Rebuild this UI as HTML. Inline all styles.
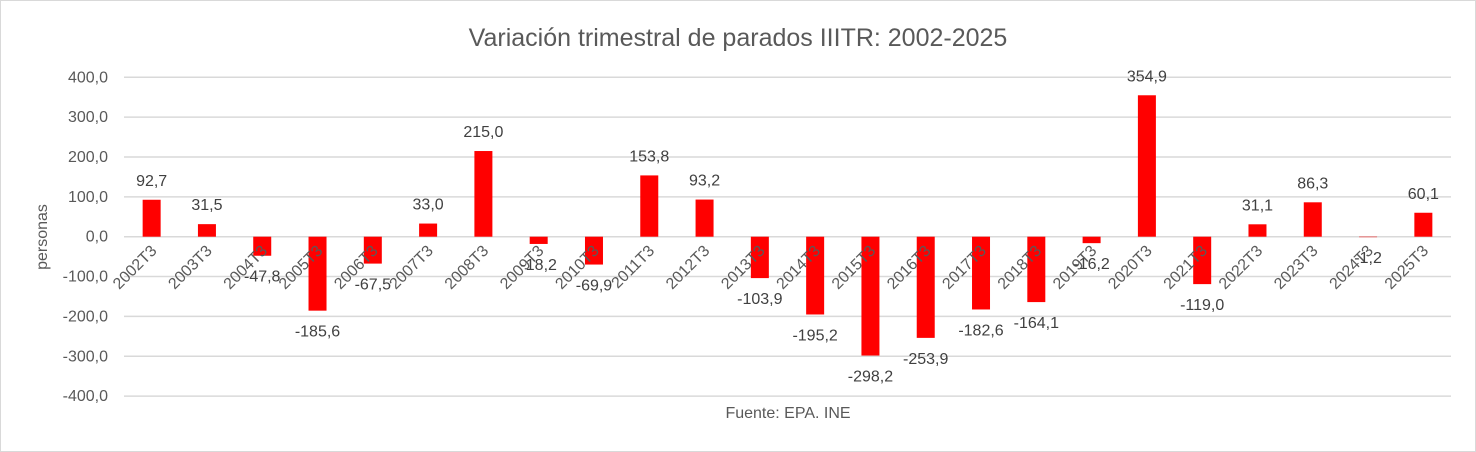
<!DOCTYPE html>
<html><head><meta charset="utf-8"><style>
body{margin:0;background:#fff;}
svg{display:block;font-family:"Liberation Sans",sans-serif;}
</style></head><body>
<svg id="chart" width="1476" height="452">
<rect x="0.5" y="0.5" width="1475" height="451" fill="#fff" stroke="#d9d9d9"/>
<text x="738" y="46" text-anchor="middle" font-size="25" fill="#595959">Variación trimestral de parados IIITR: 2002-2025</text>
<text transform="translate(47,237) rotate(-90)" text-anchor="middle" font-size="16" fill="#595959">personas</text>
<text x="788" y="418" text-anchor="middle" font-size="16" fill="#595959">Fuente: EPA. INE</text>
<g id="grid"></g><g id="bars"></g><g id="labels"></g>
</svg>
<script>
const categories=["2002T3","2003T3","2004T3","2005T3","2006T3","2007T3","2008T3","2009T3","2010T3","2011T3","2012T3","2013T3","2014T3","2015T3","2016T3","2017T3","2018T3","2019T3","2020T3","2021T3","2022T3","2023T3","2024T3","2025T3"];
const values=[92.7,31.5,-47.8,-185.6,-67.5,33.0,215.0,-18.2,-69.9,153.8,93.2,-103.9,-195.2,-298.2,-253.9,-182.6,-164.1,-16.2,354.9,-119.0,31.1,86.3,-1.2,60.1];
const yTicks=[400,300,200,100,0,-100,-200,-300,-400];
const NS="http://www.w3.org/2000/svg";
const left=124,right=1451,y0=236.7,pxPerUnit=0.3985;
const y=v=>y0-v*pxPerUnit;
const step=(right-left)/categories.length;
const x=i=>left+step*(i+0.5);
const fmt=v=>v.toFixed(1).replace('.',',');
const grid=document.getElementById('grid'),bars=document.getElementById('bars'),labels=document.getElementById('labels');
function mk(tag,attrs,parent,text){const e=document.createElementNS(NS,tag);for(const k in attrs)e.setAttribute(k,attrs[k]);if(text!==undefined)e.textContent=text;parent.appendChild(e);return e;}
yTicks.forEach(t=>{
 const l=mk('line',{x1:left,x2:right,y1:y(t),y2:y(t),stroke:'#d9d9d9','stroke-width':1.5},grid);
 
 
 const tx=mk('text',{x:108,y:y(t)+5,'text-anchor':'end','font-size':16,fill:'#595959'},grid,fmt(t));
 
 
});
categories.forEach((c,i)=>{
 const v=values[i],cx=x(i),bw=18;
 const r=mk('rect',{x:cx-bw/2,y:Math.min(y(v),y0),width:bw,height:Math.abs(y(v)-y0),fill:'#ff0000'},bars);
 
 
 const tl=mk('text',{transform:`translate(${cx+6},${y0+15}) rotate(-45)`,'text-anchor':'end','font-size':16,fill:'#595959'},labels,c);
 
 
 const ly=v>=0?y(v)-14:y(v)+26;
 const vl=mk('text',{x:cx,y:ly,'text-anchor':'middle','font-size':16,fill:'#404040'},labels,fmt(v));
 
 
});
</script>
</body></html>
